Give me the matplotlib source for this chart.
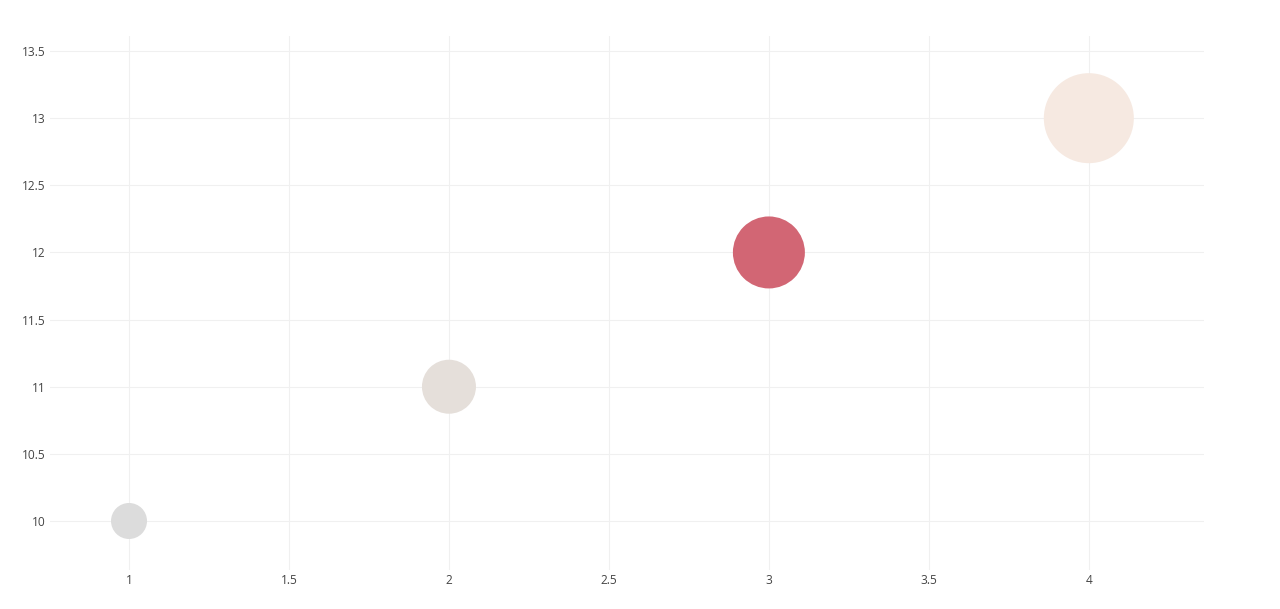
import matplotlib
matplotlib.use("Agg")
import matplotlib.pyplot as plt

x_vals = [1, 2, 3, 4]
y_vals = [10, 11, 12, 13]
diam_px = [36, 54, 72, 90]
colors = ["#dcdcdc", "#e5dfda", "#d26674", "#f6e9e1"]
x_ticks = [1, 1.5, 2, 2.5, 3, 3.5, 4]
x_tick_labels = ["1", "1.5", "2", "2.5", "3", "3.5", "4"]
y_ticks = [10, 10.5, 11, 11.5, 12, 12.5, 13, 13.5]
y_tick_labels = ["10", "10.5", "11", "11.5", "12", "12.5", "13", "13.5"]

plt.rcParams['font.family'] = ['Open Sans', 'DejaVu Sans']
dpi = 100
fig = plt.figure(figsize=(12.8, 6.09), dpi=dpi)
ax = fig.add_axes([50/1280, (609-570)/609, (1204-50)/1280, (570-36)/609])

sizes = [(d * 72 / dpi) ** 2 for d in diam_px]
ax.scatter(x_vals, y_vals, s=sizes, c=colors, linewidths=0, zorder=3)

ax.set_xlim(0.753, 4.36)
ax.set_ylim(9.635, 13.612)
ax.set_xticks(x_ticks)
ax.set_xticklabels(x_tick_labels)
ax.set_yticks(y_ticks)
ax.set_yticklabels(y_tick_labels)
ax.grid(True, color="#f0f0f0", linewidth=0.8, zorder=0)
ax.set_axisbelow(True)
for s in ax.spines.values():
    s.set_visible(False)
ax.tick_params(length=0, labelsize=8.6, labelcolor="#444444", pad=3)

fig.savefig("out.png", dpi=dpi, facecolor="white")
